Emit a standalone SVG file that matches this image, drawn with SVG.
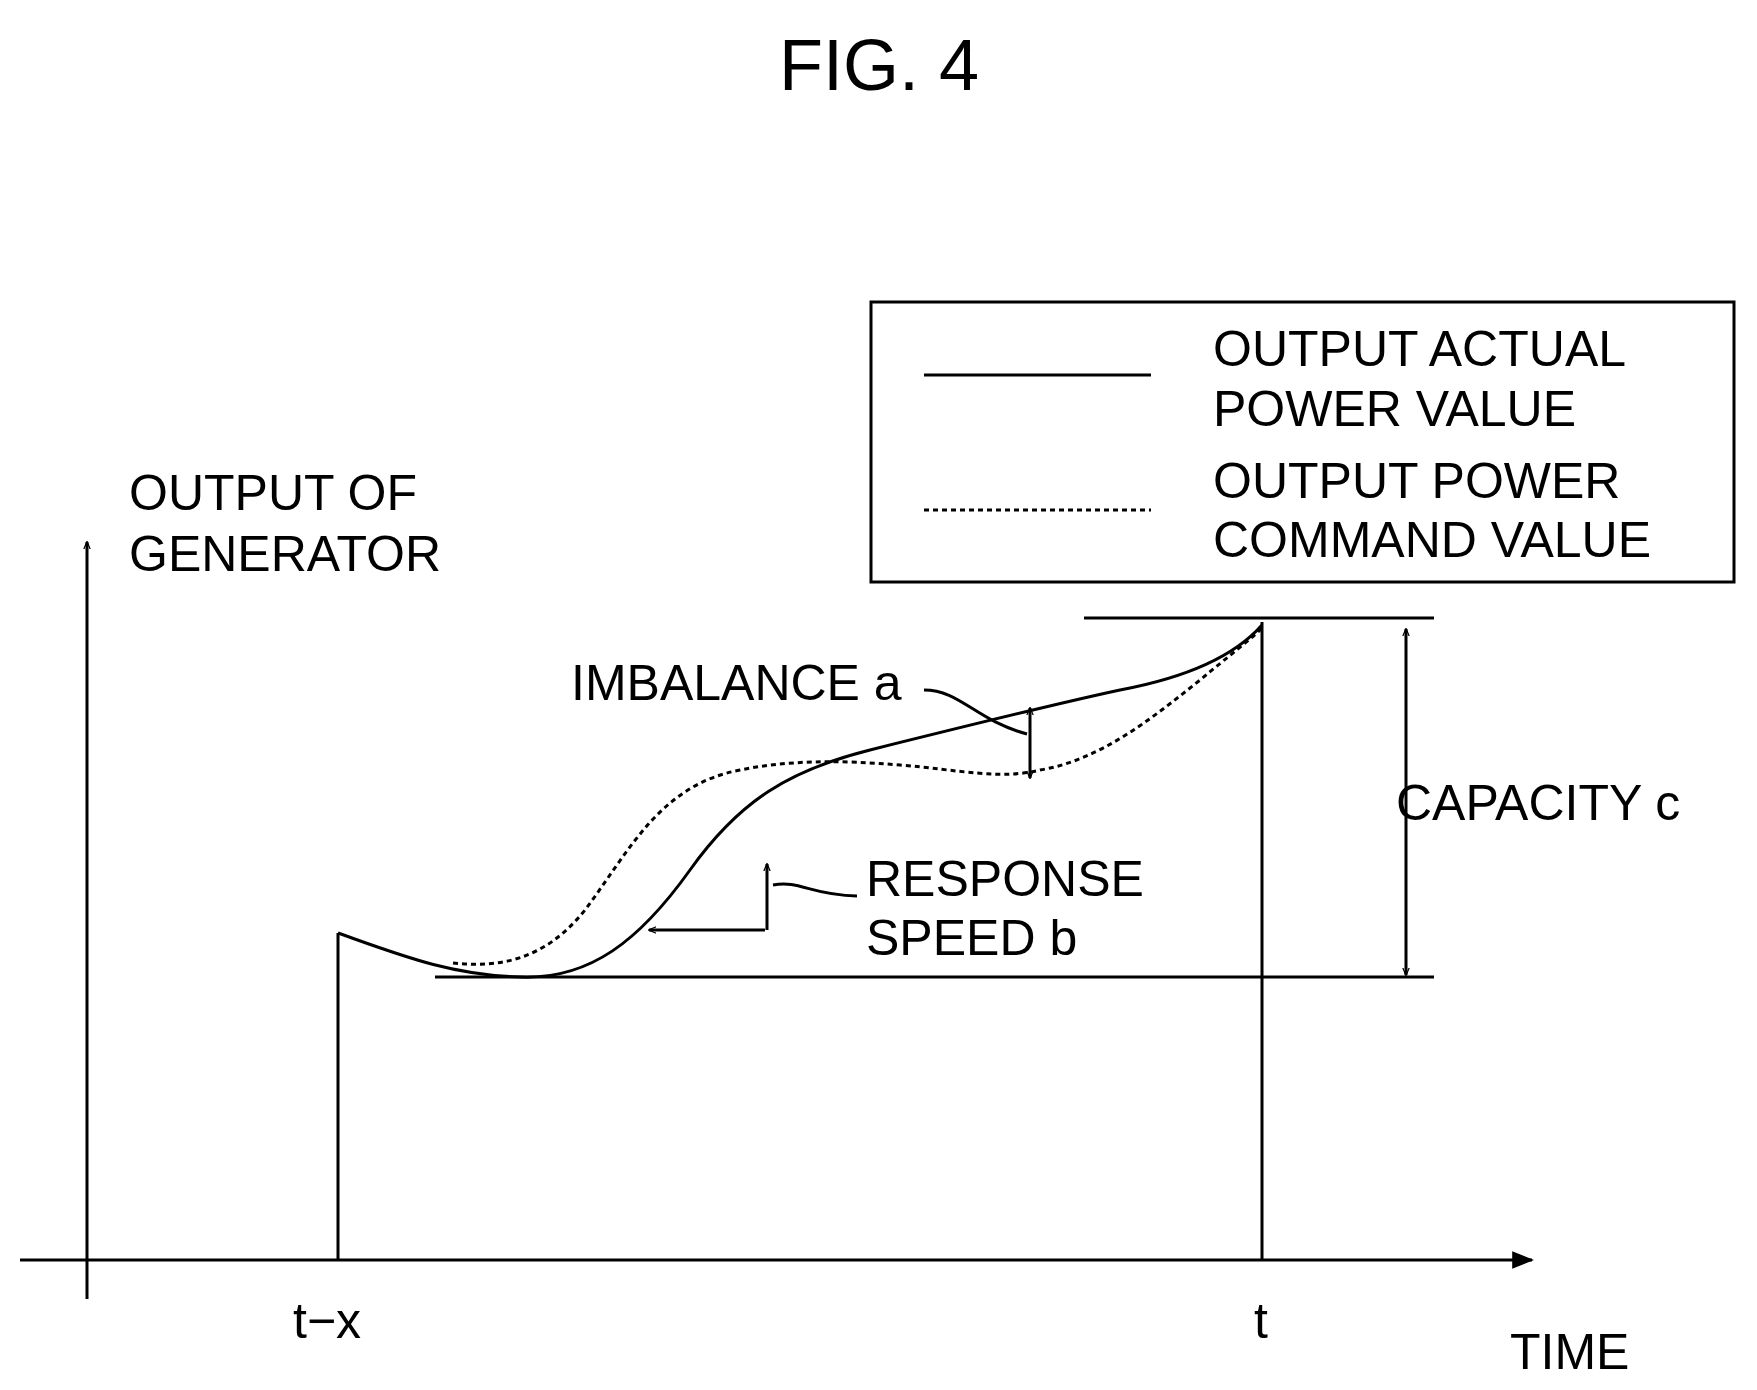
<svg xmlns="http://www.w3.org/2000/svg" width="1757" height="1390" viewBox="0 0 1757 1390">
<defs>
<style>
text{font-family:"Liberation Sans",Arial,sans-serif;fill:#000}
.l{font-size:50px}
.ln{fill:none;stroke:#000;stroke-width:3}
.d{fill:none;stroke:#000;stroke-width:3;stroke-dasharray:5 4}
</style>
<marker id="a" viewBox="0 0 10 10" refX="9" refY="5" markerWidth="8" markerHeight="8" orient="auto-start-reverse" markerUnits="userSpaceOnUse"><path d="M0,1 L10,5 L0,9" fill="none" stroke="#000" stroke-width="1.5"/></marker>
<marker id="big" viewBox="0 0 10 10" refX="9" refY="5" markerWidth="22" markerHeight="22" orient="auto" markerUnits="userSpaceOnUse"><path d="M0,1 L10,5 L0,9z" fill="#000"/></marker>
</defs>
<rect width="1757" height="1390" fill="#fff"/>
<text x="879" y="90" font-size="72" text-anchor="middle">FIG. 4</text>
<g id="legend">
<rect x="871" y="302" width="863" height="280" class="ln"/>
<line x1="924" y1="375" x2="1151" y2="375" class="ln"/>
<line x1="924" y1="510" x2="1151" y2="510" class="d"/>
<text class="l" x="1213" y="366">OUTPUT ACTUAL</text>
<text class="l" x="1213" y="426">POWER VALUE</text>
<text class="l" x="1213" y="498">OUTPUT POWER</text>
<text class="l" x="1213" y="557">COMMAND VALUE</text>
</g>
<g id="axes">
<line x1="87" y1="1299" x2="87" y2="542" class="ln" marker-end="url(#a)"/>
<line x1="20" y1="1260" x2="1532" y2="1260" class="ln" marker-end="url(#big)"/>
<text class="l" x="129" y="510">OUTPUT OF</text>
<text class="l" x="129" y="571">GENERATOR</text>
<text class="l" x="293" y="1338">t−x</text>
<text class="l" x="1254" y="1338">t</text>
<text class="l" x="1510" y="1369">TIME</text>
</g>
<g id="connectors">
<line x1="338" y1="1260" x2="338" y2="933" class="ln"/>
<line x1="1262" y1="622" x2="1262" y2="1260" class="ln"/>
<line x1="1084" y1="618" x2="1434" y2="618" class="ln"/>
<line x1="435" y1="977" x2="1434" y2="977" class="ln"/>
<line x1="1406" y1="629" x2="1406" y2="975" class="ln" marker-start="url(#a)" marker-end="url(#a)"/>
<text class="l" x="1396" y="820">CAPACITY c</text>
<path class="ln" d="M338,933 C400,955 450,975 520,977 C590,980 640,940 690,870 C740,800 790,770 870,750 C950,730 1050,705 1120,690 C1200,675 1240,650 1262,625"/>
<path class="d" d="M453,963 C500,968 545,960 585,910 C630,850 660,785 740,770 C790,760 840,760 900,765 C960,770 1000,780 1040,770 C1100,760 1150,720 1200,680 C1230,655 1250,640 1262,628"/>
<line x1="1030" y1="708" x2="1030" y2="778" class="ln" marker-start="url(#a)" marker-end="url(#a)"/>
<text class="l" x="571" y="700">IMBALANCE a</text>
<path class="ln" d="M924,690 C960,690 975,720 1027,734"/>
<line x1="649" y1="930" x2="765" y2="930" class="ln" marker-start="url(#a)"/>
<line x1="767" y1="930" x2="767" y2="864" class="ln" marker-end="url(#a)"/>
<path class="ln" d="M773,885 C800,880 810,895 857,896"/>
<text class="l" x="866" y="896">RESPONSE</text>
<text class="l" x="866" y="955">SPEED b</text>
</g>
</svg>
